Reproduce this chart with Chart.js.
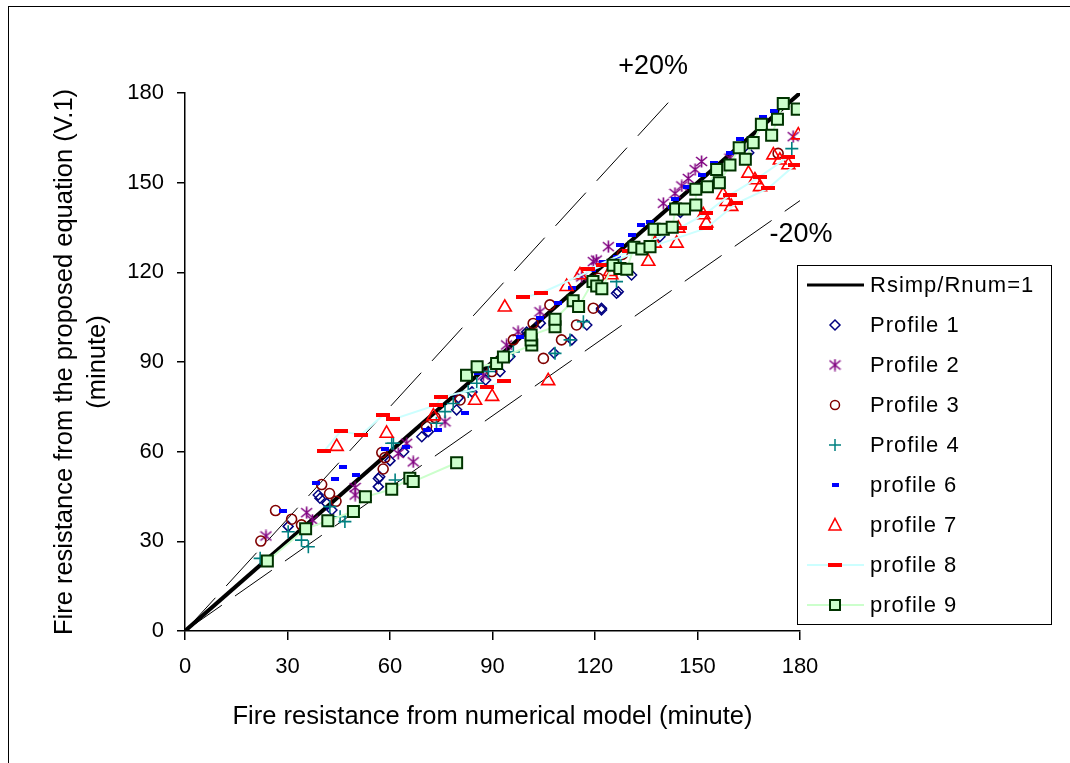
<!DOCTYPE html>
<html>
<head>
<meta charset="utf-8">
<title>Fire resistance: proposed equation vs numerical model</title>
<script src="https://cdn.jsdelivr.net/npm/chart.js@4.4.1/dist/chart.umd.min.js"></script>
<style>
  html, body { margin: 0; padding: 0; background: #fff; }
  #wrap { position: relative; width: 1070px; height: 763px; overflow: hidden; }
  #frame { position: absolute; left: 8px; top: 6px; width: 1300px; height: 1000px; border: 1.5px solid #000; }
  canvas { position: absolute; left: 0; top: 0; }
</style>
</head>
<body>
<div id="wrap">
  <div id="frame"></div>
  <canvas id="fireChart" width="1070" height="763"></canvas>
</div>
<script>
// axis ticks (minutes)
const axisTicks = [0, 30, 60, 90, 120, 150, 180];

// reference lines [x, y]
const equalityLine = [[0, 0], [180, 180]];
const plus20Line = [[0, 0], [144, 180]];
const minus20Line = [[0, 0], [180, 144]];

// [numerical model, proposed equation] in minutes
const profile1 = [[30.2, 35], [39, 45.5], [41.5, 42.7], [43, 40.5], [39.5, 44.4], [56.6, 48.3], [57, 51.6],
  [56.6, 51], [60, 57], [64, 60], [69.3, 65], [71.2, 66.7], [79.5, 74], [80, 78], [84, 80], [88, 84],
  [92.2, 86.8], [95.1, 91.8], [100, 100], [104, 103], [108, 93], [113.2, 97.4], [117.6, 102.4], [121.9, 108],
  [121.9, 107.4], [126.3, 113], [126.8, 113.5], [130.7, 119.1], [139, 131.9], [145, 140], [155, 150], [165, 160]];
const profile2 = [[23.7, 31.8], [35.6, 39.6], [37.3, 37.1], [49.8, 48], [49.8, 45.5], [62.4, 59.4], [64.9, 62.8],
  [66.8, 56.6], [76.1, 70], [87.3, 85.6], [94.1, 95.7], [97.5, 100.1], [103.9, 106.8], [116.1, 118.5],
  [120.4, 124.1], [119.5, 123.6], [123.9, 128.6], [140, 143.1], [143.4, 146.4], [145.4, 148.9], [147.3, 151.4],
  [149.3, 154.4], [151.2, 157.1], [159.5, 158.2], [178, 165.4]];
const profile3 = [[22.2, 30.1], [26.5, 40.3], [31.2, 37.4], [34.1, 35.5], [40, 49], [42.3, 46], [44.2, 43.4],
  [57.6, 59.7], [58.5, 58], [58, 54.2], [70.7, 68.4], [73.2, 71.4], [80.5, 77.3], [89.8, 86.8], [96.1, 97.4],
  [101.9, 102.9], [104.9, 91.2], [106.8, 109.1], [110.2, 97.4], [114.6, 102.4], [119.5, 108], [121, 118],
  [128, 126], [173.6, 159.8]];
const profile4 = [[22, 24.3], [30.2, 33.2], [34.1, 30.4], [36.1, 28.2], [42.4, 41.6], [45.4, 38.2], [46.8, 36.6],
  [61, 62.8], [61.5, 50.5], [60.5, 62.8], [73.6, 69.5], [76.1, 73.4], [78.5, 76.1], [82.9, 80.1], [85.4, 82.9],
  [88.8, 86.8], [96.1, 93.4], [108.3, 92.9], [112.7, 97.4], [116.6, 103.5], [126.3, 116.9], [127.6, 122.4],
  [177.6, 161.4]];
const profile6 = [[28.8, 40.1], [38.2, 49.5], [44, 50.9], [46.3, 54.8], [50, 52.2], [58.5, 60.8], [64.6, 61.6],
  [70.7, 67.2], [74.1, 67.4], [81.9, 73], [85.8, 86.2], [98, 98.2], [103.9, 104.6], [109.3, 109.6],
  [113.2, 114.6], [119, 120.8], [122.4, 123.6], [126.3, 125.2], [127.3, 129.1], [130.7, 132.5], [133.6, 135.8],
  [136.1, 137], [142.4, 142], [143.4, 144.7], [146.8, 148.6], [151.2, 152.6], [154.8, 156.5], [159.5, 159.8],
  [162.4, 164.5], [169.3, 171.9], [172.4, 174.1]];
const profile7 = [[44.4, 61.7], [59, 66.1], [72.7, 71.9], [84.9, 77.1], [89.9, 78.4], [93.6, 108.3], [106.3, 83.7],
  [111.7, 115.2], [115.6, 119.1], [124.4, 120.2], [124.8, 119.1], [135.6, 123.6], [137.5, 129.7], [143.9, 129.7],
  [144.4, 134.7], [151.7, 139.2], [152.6, 136.4], [157.5, 145.9], [158.5, 143.6], [159.9, 142], [164.9, 153.1],
  [166.8, 150.9], [168.3, 148.6], [172.2, 159.2], [174.1, 157.5], [176.6, 155.9], [179.5, 165.9]];
// null pairs break the connecting line
const profile8 = [[40.7, 60.2], [45.6, 66.9], [51.5, 65.6], [58, 72.3], [61, 70.9], [73.6, 75.6], [74.8, 78.2],
  [88.3, 81.7], [93.4, 83.6], null,
  [99, 111.6], [104.1, 113], [122.4, 122.4], [135, 128], [152.6, 134.8], [161.4, 143.1], [170.7, 148.1],
  [178.5, 155.9], null,
  [118, 121], [130, 127], [145, 135], [152.6, 139.8], [159.5, 145.9], [168.3, 152], [176.6, 158.7]];
const profile9 = [[24.1, 23.4], [35.3, 34.2], [41.8, 36.9], [49.3, 40], [52.8, 44.9], [60.5, 47.4], [65.8, 51.1],
  [66.8, 50], [79.5, 56.3], null,
  [82.4, 85.6], [85.5, 88.4], [91.2, 89.5], [93.2, 91.7], [101.5, 95.7], [101.3, 97.4], [101.3, 99],
  [108.3, 101.8], [108.3, 104.3], [113.6, 110.5], [115.2, 108.6], [119.4, 116.9], [120.5, 115.4], [122, 114.5],
  [125.3, 122.4], [127.3, 121.3], [129.3, 121], [131.4, 128.4], [133.7, 127.8], [136.1, 128.6], [137.3, 134.4],
  [140, 134.4], [142.6, 135.1], [143.6, 141.2], [146.2, 141.2], [149.5, 142.5], [149.5, 147.8], [152.9, 148.6],
  [155.6, 154.4], [156.4, 150], [159.5, 155.9], [162.2, 161.7], [164, 157.8], [166.3, 163.4], [168.7, 169.5],
  [171.7, 165.9], [173.4, 171.2], [175.1, 176.5], [179.2, 174.6]];

const legendLabels = ['Rsimp/Rnum=1', 'Profile 1', 'Profile 2', 'Profile 3', 'Profile 4',
  'profile 6', 'profile 7', 'profile 8', 'profile 9'];

const FONT = "'Liberation Sans', Arial, sans-serif";

const toPoints = arr => arr.map(p => p ? { x: p[0], y: p[1] } : { x: null, y: null });

// small canvases used as marker images
function markerCanvas(w, h, paint) {
  const c = document.createElement('canvas');
  c.width = w; c.height = h;
  paint(c.getContext('2d'), w, h);
  return c;
}
function paintStar(ctx, w, h) {
  ctx.strokeStyle = '#800080';
  ctx.lineWidth = 1.6;
  ctx.beginPath();
  ctx.moveTo(w / 2, 0.5); ctx.lineTo(w / 2, h - 0.5);
  ctx.moveTo(1, 2); ctx.lineTo(w - 1, h - 2);
  ctx.moveTo(w - 1, 2); ctx.lineTo(1, h - 2);
  ctx.stroke();
}
const starImg = markerCanvas(13, 13, paintStar);
const blueDashImg = markerCanvas(8, 4, (c, w, h) => { c.fillStyle = '#0000ff'; c.fillRect(0, 0, w, h); });
const redDashImg = markerCanvas(14, 4, (c, w, h) => { c.fillStyle = '#ff0000'; c.fillRect(0, 0, w, h); });

const refLine = (data, width, dash, order) => ({
  data: toPoints(data), showLine: true, borderColor: '#000', borderWidth: width,
  borderDash: dash, pointRadius: 0, fill: false, order: order
});

const datasets = [
  refLine(equalityLine, 4, [], 9),
  refLine(plus20Line, 1, [45, 16], 11),
  refLine(minus20Line, 1, [45, 16], 10),
  { data: toPoints(profile1), pointStyle: 'rectRot', pointRadius: 5, borderColor: '#000080',
    backgroundColor: 'rgba(0,0,0,0)', borderWidth: 1.5, order: 8 },
  { data: toPoints(profile2), pointStyle: starImg, pointRadius: 5, borderColor: '#800080', order: 7 },
  { data: toPoints(profile3), pointStyle: 'circle', pointRadius: 5, borderColor: '#800000',
    backgroundColor: 'rgba(0,0,0,0)', borderWidth: 1.6, order: 6 },
  { data: toPoints(profile4), pointStyle: 'cross', pointRadius: 6.5, borderColor: '#008080', borderWidth: 1.6, order: 5 },
  { data: toPoints(profile6), pointStyle: blueDashImg, pointRadius: 4, borderColor: '#0000ff', order: 4 },
  { data: toPoints(profile7), pointStyle: 'triangle', pointRadius: 7.5, borderColor: '#ff0000',
    backgroundColor: 'rgba(0,0,0,0)', borderWidth: 1.6, order: 3 },
  { data: toPoints(profile8), pointStyle: redDashImg, pointRadius: 5, showLine: true, spanGaps: false,
    borderColor: '#ccffff', borderWidth: 2, order: 2 },
  { data: toPoints(profile9), pointStyle: 'rect', pointRadius: 7.8, showLine: true, spanGaps: false,
    borderColor: '#003300', backgroundColor: '#ccffcc', borderWidth: 2, order: 1,
    segment: { borderColor: '#ccffcc' } }
];

// legend box and the +20% / -20% notes, drawn like the original Excel chart
const excelLegend = {
  id: 'excelLegend',
  afterDraw(chart) {
    const ctx = chart.ctx;
    const xs = chart.scales.x, ys = chart.scales.y;
    ctx.save();
    ctx.fillStyle = '#000';
    ctx.font = '27px ' + FONT;
    ctx.textAlign = 'center';
    ctx.textBaseline = 'middle';
    ctx.fillText('+20%', xs.getPixelForValue(137), ys.getPixelForValue(189));
    ctx.fillText('-20%', xs.getPixelForValue(180.3), ys.getPixelForValue(132.8));

    const left = 797.5, top = 265.5, w = 254, h = 359;
    ctx.fillStyle = '#fff';
    ctx.fillRect(left, top, w, h);
    ctx.strokeStyle = '#000';
    ctx.lineWidth = 1;
    ctx.strokeRect(left, top, w, h);

    const mx = 835, lx0 = 807, lx1 = 864;
    ctx.font = '22px ' + FONT;
    ctx.letterSpacing = '1px';
    ctx.textAlign = 'left';
    legendLabels.forEach((label, i) => {
      const y = 285 + i * 40;
      ctx.fillStyle = '#000';
      ctx.fillText(label, 870, y + 1);
      ctx.beginPath();
      switch (i) {
        case 0:
          ctx.strokeStyle = '#000'; ctx.lineWidth = 3;
          ctx.moveTo(lx0, y); ctx.lineTo(lx1, y); ctx.stroke();
          break;
        case 1:
          ctx.strokeStyle = '#000080'; ctx.lineWidth = 1.5;
          ctx.moveTo(mx - 5, y); ctx.lineTo(mx, y - 5); ctx.lineTo(mx + 5, y); ctx.lineTo(mx, y + 5);
          ctx.closePath(); ctx.stroke();
          break;
        case 2:
          ctx.drawImage(starImg, mx - 6.5, y - 6.5);
          break;
        case 3:
          ctx.strokeStyle = '#800000'; ctx.lineWidth = 1.5;
          ctx.arc(mx, y, 4.5, 0, Math.PI * 2); ctx.stroke();
          break;
        case 4:
          ctx.strokeStyle = '#008080'; ctx.lineWidth = 1.5;
          ctx.moveTo(mx - 6, y); ctx.lineTo(mx + 6, y); ctx.moveTo(mx, y - 6); ctx.lineTo(mx, y + 6); ctx.stroke();
          break;
        case 5:
          ctx.fillStyle = '#0000ff'; ctx.fillRect(mx - 3, y - 2, 7, 4);
          break;
        case 6:
          ctx.strokeStyle = '#ff0000'; ctx.lineWidth = 1.6;
          ctx.moveTo(mx, y - 6.5); ctx.lineTo(mx + 6, y + 5); ctx.lineTo(mx - 6, y + 5); ctx.closePath(); ctx.stroke();
          break;
        case 7:
          ctx.strokeStyle = '#ccffff'; ctx.lineWidth = 2;
          ctx.moveTo(lx0, y); ctx.lineTo(lx1, y); ctx.stroke();
          ctx.fillStyle = '#ff0000'; ctx.fillRect(mx - 7, y - 2, 14, 4);
          break;
        case 8:
          ctx.strokeStyle = '#ccffcc'; ctx.lineWidth = 2;
          ctx.moveTo(lx0, y); ctx.lineTo(lx1, y); ctx.stroke();
          ctx.fillStyle = '#ccffcc'; ctx.fillRect(mx - 5, y - 5, 10, 10);
          ctx.strokeStyle = '#003300'; ctx.lineWidth = 2; ctx.strokeRect(mx - 5, y - 5, 10, 10);
          break;
      }
    });
    ctx.restore();
  }
};

const ctx = document.getElementById('fireChart').getContext('2d');
const fireChart = new Chart(ctx, {
  type: 'scatter',
  data: { datasets: datasets },
  options: {
    responsive: false,
    animation: false,
    events: [],
    layout: { padding: { top: 93, right: 270, left: 0, bottom: 0 } },
    plugins: { legend: { display: false }, tooltip: { enabled: false } },
    scales: {
      x: {
        type: 'linear', min: 0, max: 180,
        afterBuildTicks: s => { s.ticks = axisTicks.map(v => ({ value: v })); },
        ticks: { color: '#000', font: { family: FONT, size: 22 }, padding: 14, maxRotation: 0 },
        grid: { drawOnChartArea: false, drawTicks: true, tickLength: 9, color: '#000', lineWidth: 1.5 },
        border: { color: '#000', width: 1.5 },
        title: { display: true, text: 'Fire resistance from numerical model (minute)', color: '#000',
          font: { family: FONT, size: 25.5 }, padding: { top: 0, bottom: 31 } },
        afterFit: s => { s.height = 132; }
      },
      y: {
        type: 'linear', min: 0, max: 180,
        afterBuildTicks: s => { s.ticks = axisTicks.map(v => ({ value: v })); },
        ticks: { color: '#000', font: { family: FONT, size: 22 }, padding: 13 },
        grid: { drawOnChartArea: false, drawTicks: true, tickLength: 8, color: '#000', lineWidth: 1.5 },
        border: { color: '#000', width: 1.5 },
        title: { display: true, text: ['Fire resistance from the proposed equation (V.1)', '(minute)'], color: '#000',
          font: { family: FONT, size: 25.5, lineHeight: 1.294 }, padding: { top: 48.5, bottom: 0 } },
        afterFit: s => { s.width = 185; }
      }
    }
  },
  plugins: [excelLegend]
});
</script>
</body>
</html>
